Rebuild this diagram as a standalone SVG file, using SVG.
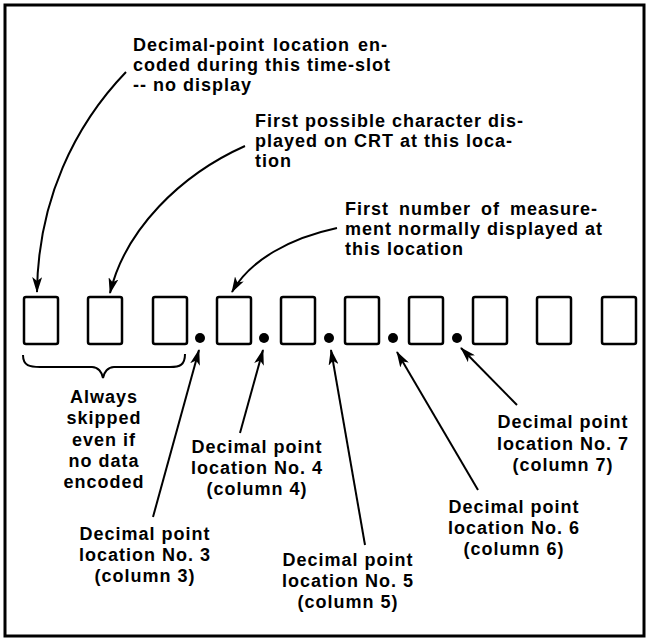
<svg xmlns="http://www.w3.org/2000/svg" width="648" height="642" viewBox="0 0 648 642">
<style>
  text { font-family: "Liberation Sans", Arial, sans-serif; font-weight: bold; font-size: 18px; letter-spacing: 1px; fill: #000; }
  .mid { text-anchor: middle; }
  .box { fill: #fff; stroke: #000; stroke-width: 2.5; }
  .ln { fill: none; stroke: #000; stroke-width: 2; }
</style>
<defs>
  <marker id="ah" markerWidth="16" markerHeight="10" refX="15" refY="5" orient="auto" markerUnits="userSpaceOnUse">
    <path d="M0,0 L16,5 L0,10 L4,5 Z" fill="#000"/>
  </marker>
</defs>
<rect x="0" y="0" width="648" height="642" fill="#fff"/>
<rect x="5" y="5" width="639" height="631" fill="none" stroke="#000" stroke-width="3"/>

<g id="cells">
  <rect class="box" x="24" y="297" width="34" height="47" rx="2"/>
  <rect class="box" x="88" y="297" width="34" height="47" rx="2"/>
  <rect class="box" x="153" y="297" width="34" height="47" rx="2"/>
  <rect class="box" x="217" y="297" width="34" height="47" rx="2"/>
  <rect class="box" x="281" y="297" width="34" height="47" rx="2"/>
  <rect class="box" x="345" y="297" width="34" height="47" rx="2"/>
  <rect class="box" x="409" y="297" width="34" height="47" rx="2"/>
  <rect class="box" x="473" y="297" width="34" height="47" rx="2"/>
  <rect class="box" x="537" y="297" width="34" height="47" rx="2"/>
  <rect class="box" x="602" y="297" width="34" height="47" rx="2"/>
</g>
<g id="dots">
  <circle cx="200" cy="338" r="5"/>
  <circle cx="264" cy="338" r="5"/>
  <circle cx="329" cy="338" r="5"/>
  <circle cx="393" cy="338" r="5"/>
  <circle cx="457" cy="338" r="5"/>
</g>
<g id="brace">
  <path class="ln" stroke-width="2.5" d="M23,355 C23,366 30,367 40,367 L92,367 C98,367 102,372 103,378 C104,372 108,367 114,367 L170,367 C180,367 185,365 185,354"/>
</g>

<g id="connectors">
  <path class="ln" marker-end="url(#ah)" d="M126,72 C75,125 38,200 37,292"/>
  <path class="ln" marker-end="url(#ah)" d="M245,146 C180,175 125,230 110,293"/>
  <path class="ln" marker-end="url(#ah)" d="M337,228 C290,238 250,260 232,292"/>
  <path class="ln" marker-end="url(#ah)" d="M153,517 L199,350"/>
  <path class="ln" marker-end="url(#ah)" d="M240,433 L263,350"/>
  <path class="ln" marker-end="url(#ah)" d="M365,545 L331,350"/>
  <path class="ln" marker-end="url(#ah)" d="M478,490 L397,352"/>
  <path class="ln" marker-end="url(#ah)" d="M517,405 L461,348"/>
</g>

<g id="label-dp-encoded">
  <text x="133" y="51" word-spacing="2">Decimal-point location en-</text>
  <text x="133" y="71">coded during this time-slot</text>
  <text x="133" y="91">-- no display</text>
</g>
<g id="label-first-char">
  <text x="255" y="127">First possible character dis-</text>
  <text x="255" y="147">played on CRT at this loca-</text>
  <text x="255" y="167">tion</text>
</g>
<g id="label-first-number">
  <text x="345" y="215" word-spacing="4">First number of measure-</text>
  <text x="345" y="235">ment normally displayed at</text>
  <text x="345" y="255">this location</text>
</g>
<g id="label-skipped">
  <text class="mid" x="104" y="403">Always</text>
  <text class="mid" x="104" y="424">skipped</text>
  <text class="mid" x="104" y="446">even if</text>
  <text class="mid" x="104" y="467">no data</text>
  <text class="mid" x="104" y="488">encoded</text>
</g>
<g id="label-dp3">
  <text class="mid" x="145" y="540">Decimal point</text>
  <text class="mid" x="145" y="561">location No. 3</text>
  <text class="mid" x="145" y="582">(column 3)</text>
</g>
<g id="label-dp4">
  <text class="mid" x="257" y="453">Decimal point</text>
  <text class="mid" x="257" y="474">location No. 4</text>
  <text class="mid" x="257" y="495">(column 4)</text>
</g>
<g id="label-dp5">
  <text class="mid" x="348" y="566">Decimal point</text>
  <text class="mid" x="348" y="587">location No. 5</text>
  <text class="mid" x="348" y="608">(column 5)</text>
</g>
<g id="label-dp6">
  <text class="mid" x="514" y="513">Decimal point</text>
  <text class="mid" x="514" y="534">location No. 6</text>
  <text class="mid" x="514" y="555">(column 6)</text>
</g>
<g id="label-dp7">
  <text class="mid" x="563" y="428">Decimal point</text>
  <text class="mid" x="563" y="450">location No. 7</text>
  <text class="mid" x="563" y="471">(column 7)</text>
</g>
</svg>
